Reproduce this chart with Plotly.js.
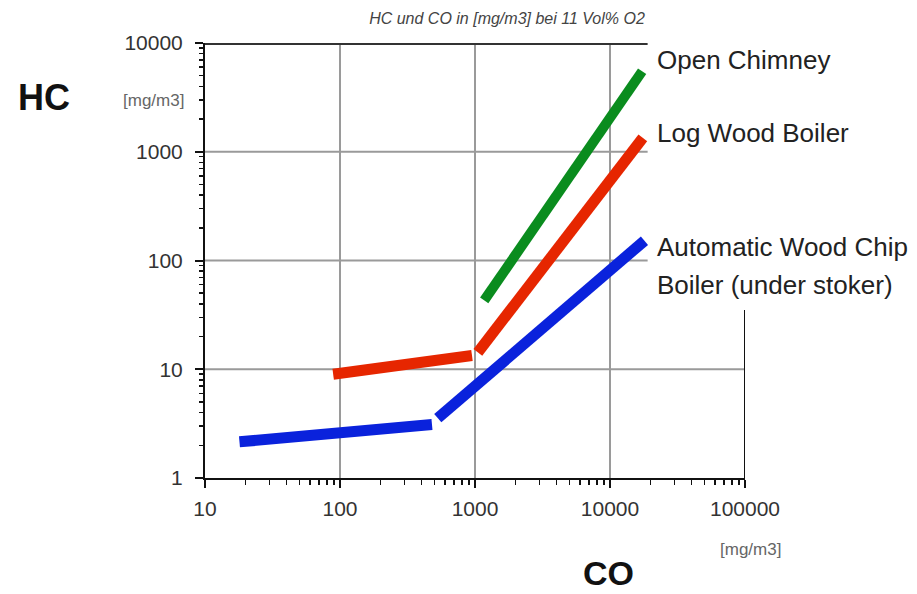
<!DOCTYPE html>
<html>
<head>
<meta charset="utf-8">
<script src="https://cdn.plot.ly/plotly-3.0.1.min.js"></script>
<style>html,body{margin:0;padding:0;background:#fff;}#chart{width:917px;height:594px;}</style>
</head>
<body>
<div id="chart"></div>
<script>
// CO [mg/m3] (x) vs HC [mg/m3] (y); null separates the two segments of a series
var seriesNames = ["Open Chimney", "Log Wood Boiler", "Automatic Wood Chip Boiler (under stoker)"];
var coOpenChimney = [1170, 17300];
var hcOpenChimney = [43, 5500];
var coLogWood = [89, 950, null, 1050, 17500];
var hcLogWood = [9.0, 13.4, null, 14.3, 1340];
var coWoodChip = [18, 480, null, 530, 18000];
var hcWoodChip = [2.15, 3.1, null, 3.55, 152];
var xTickVals = [10, 100, 1000, 10000, 100000];
var xTickText = ["10", "100", "1000", "10000", "100000"];
var yTickVals = [1, 10, 100, 1000, 10000];
var yTickText = ["1", "10", "100", "1000", "10000"];

var FONT = "Liberation Sans, Arial, Helvetica, sans-serif";

var traces = [
  {x: coOpenChimney, y: hcOpenChimney, name: seriesNames[0], mode: "lines",
   line: {color: "#0a8c1e", width: 10}, connectgaps: false},
  {x: coLogWood, y: hcLogWood, name: seriesNames[1], mode: "lines",
   line: {color: "#e62600", width: 11}, connectgaps: false},
  {x: coWoodChip, y: hcWoodChip, name: seriesNames[2], mode: "lines",
   line: {color: "#0a22dc", width: 11}, connectgaps: false}
];

var grid = {color: "#9a9a9a", width: 2};
var shapes = [];
[100, 1000, 10000].forEach(function (v) {
  shapes.push({type: "line", xref: "x", yref: "y", x0: v, x1: v, y0: 1, y1: 10000, line: grid, layer: "below"});
});
shapes.push({type: "line", xref: "x", yref: "y", x0: 10, x1: 100000, y0: 10, y1: 10, line: grid, layer: "below"});
[100, 1000].forEach(function (v) {
  shapes.push({type: "line", xref: "x", yref: "y", x0: 10, x1: 19000, y0: v, y1: v, line: grid, layer: "below"});
});
// top frame line and partial right frame line
shapes.push({type: "line", xref: "x", yref: "y", x0: 10, x1: 19000, y0: 10000, y1: 10000, line: {color: "#333", width: 4}});
shapes.push({type: "line", xref: "x", yref: "y", x0: 100000, x1: 100000, y0: 1, y1: 35, line: {color: "#111", width: 2}});

function px2x(p) { return (p - 205) / 540; }
function px2y(p) { return (478 - p) / 435; }

var annotations = [
  {text: "HC", xref: "paper", yref: "paper", x: px2x(16), y: px2y(97), showarrow: false,
   xanchor: "left", yanchor: "middle",
   font: {family: FONT, size: 36, color: "#111", weight: "bold"}},
  {text: "[mg/m3]", xref: "paper", yref: "paper", x: px2x(186), y: px2y(100), showarrow: false,
   xanchor: "right", yanchor: "middle",
   font: {family: FONT, size: 17, color: "#666"}},
  {text: "CO", xref: "paper", yref: "paper", x: px2x(608), y: px2y(573), showarrow: false,
   xanchor: "center", yanchor: "middle",
   font: {family: FONT, size: 34, color: "#111", weight: "bold"}},
  {text: "[mg/m3]", xref: "paper", yref: "paper", x: px2x(783), y: px2y(549), showarrow: false,
   xanchor: "right", yanchor: "middle",
   font: {family: FONT, size: 17, color: "#666"}},
  {text: "Open Chimney", xref: "paper", yref: "paper", x: px2x(655), y: px2y(60), showarrow: false,
   xanchor: "left", yanchor: "middle",
   font: {family: FONT, size: 26, color: "#222"}},
  {text: "Log Wood Boiler", xref: "paper", yref: "paper", x: px2x(655), y: px2y(133), showarrow: false,
   xanchor: "left", yanchor: "middle",
   font: {family: FONT, size: 26, color: "#222"}},
  {text: "Automatic Wood Chip", xref: "paper", yref: "paper", x: px2x(655), y: px2y(247), showarrow: false,
   xanchor: "left", yanchor: "middle",
   font: {family: FONT, size: 26, color: "#222"}},
  {text: "Boiler (under stoker)", xref: "paper", yref: "paper", x: px2x(655), y: px2y(285), showarrow: false,
   xanchor: "left", yanchor: "middle",
   font: {family: FONT, size: 26, color: "#222"}}
];

var layout = {
  width: 917, height: 594,
  margin: {l: 205, r: 172, t: 43, b: 116, pad: 0},
  paper_bgcolor: "#fff", plot_bgcolor: "#fff",
  showlegend: false,
  title: {text: "<i>HC und CO in [mg/m3] bei 11 Vol% O2</i>", x: 507 / 917, xanchor: "center",
          y: 1 - 18 / 594, yanchor: "middle", yref: "container",
          font: {family: FONT, size: 16, color: "#444"}},
  xaxis: {type: "log", range: [1, 5], showgrid: false, zeroline: false,
          showline: true, linecolor: "#111", linewidth: 2,
          tickmode: "array", tickvals: xTickVals, ticktext: xTickText,
          ticks: "outside", ticklen: 8, tickwidth: 2, tickcolor: "#111",
          ticklabelstandoff: 3,
          minor: {ticks: "outside", ticklen: 5, tickwidth: 1.5, tickcolor: "#111", dtick: "D1", showgrid: false},
          tickfont: {family: FONT, size: 21, color: "#333"}, fixedrange: true},
  yaxis: {type: "log", range: [0, 4], showgrid: false, zeroline: false,
          showline: true, linecolor: "#111", linewidth: 2,
          tickmode: "array", tickvals: yTickVals, ticktext: yTickText,
          ticks: "outside", ticklen: 8, tickwidth: 2, tickcolor: "#111",
          ticklabelstandoff: 8,
          minor: {ticks: "outside", ticklen: 4, tickwidth: 1.5, tickcolor: "#111", dtick: "D1", showgrid: false},
          tickfont: {family: FONT, size: 21, color: "#333"}, fixedrange: true},
  shapes: shapes,
  annotations: annotations
};

Plotly.newPlot("chart", traces, layout, {displayModeBar: false, staticPlot: true});
</script>
</body>
</html>
